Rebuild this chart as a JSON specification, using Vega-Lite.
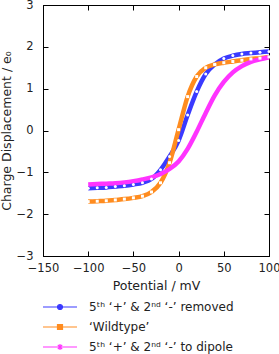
{
  "$schema": "https://vega.github.io/schema/vega-lite/v6.json",
  "autosize": "none",
  "width": 226,
  "height": 251,
  "padding": {"left": 43, "top": 5, "right": 10, "bottom": 98},
  "background": "white",
  "config": {
    "view": {"stroke": "black", "strokeWidth": 1},
    "font": "DejaVu Sans",
    "axis": {"grid": false, "domainColor": "black", "tickColor": "black", "tickSize": -5, "labelFontSize": 11.5, "labelColor": "#222", "titleFontSize": 12.5, "titleFontWeight": "normal", "titleColor": "#222", "labelFont": "DejaVu Sans", "titleFont": "DejaVu Sans", "labelOverlap": false, "labelFlush": false},
    "legend": {"labelFont": "DejaVu Sans", "labelFontSize": 12, "labelColor": "#222"}
  },
  "data": {"values": [
    {"s": "5ᵗʰ ‘+’ & 2ⁿᵈ ‘-’ removed", "v": -100, "q": -1.38},
    {"s": "5ᵗʰ ‘+’ & 2ⁿᵈ ‘-’ removed", "v": -90, "q": -1.37},
    {"s": "5ᵗʰ ‘+’ & 2ⁿᵈ ‘-’ removed", "v": -80, "q": -1.36},
    {"s": "5ᵗʰ ‘+’ & 2ⁿᵈ ‘-’ removed", "v": -70, "q": -1.34},
    {"s": "5ᵗʰ ‘+’ & 2ⁿᵈ ‘-’ removed", "v": -60, "q": -1.32},
    {"s": "5ᵗʰ ‘+’ & 2ⁿᵈ ‘-’ removed", "v": -50, "q": -1.29},
    {"s": "5ᵗʰ ‘+’ & 2ⁿᵈ ‘-’ removed", "v": -40, "q": -1.25},
    {"s": "5ᵗʰ ‘+’ & 2ⁿᵈ ‘-’ removed", "v": -30, "q": -1.16},
    {"s": "5ᵗʰ ‘+’ & 2ⁿᵈ ‘-’ removed", "v": -20, "q": -0.94},
    {"s": "5ᵗʰ ‘+’ & 2ⁿᵈ ‘-’ removed", "v": -10, "q": -0.62},
    {"s": "5ᵗʰ ‘+’ & 2ⁿᵈ ‘-’ removed", "v": 0, "q": -0.24},
    {"s": "5ᵗʰ ‘+’ & 2ⁿᵈ ‘-’ removed", "v": 10, "q": 0.37},
    {"s": "5ᵗʰ ‘+’ & 2ⁿᵈ ‘-’ removed", "v": 20, "q": 0.93},
    {"s": "5ᵗʰ ‘+’ & 2ⁿᵈ ‘-’ removed", "v": 30, "q": 1.35},
    {"s": "5ᵗʰ ‘+’ & 2ⁿᵈ ‘-’ removed", "v": 40, "q": 1.58},
    {"s": "5ᵗʰ ‘+’ & 2ⁿᵈ ‘-’ removed", "v": 50, "q": 1.72},
    {"s": "5ᵗʰ ‘+’ & 2ⁿᵈ ‘-’ removed", "v": 60, "q": 1.79},
    {"s": "5ᵗʰ ‘+’ & 2ⁿᵈ ‘-’ removed", "v": 70, "q": 1.83},
    {"s": "5ᵗʰ ‘+’ & 2ⁿᵈ ‘-’ removed", "v": 80, "q": 1.85},
    {"s": "5ᵗʰ ‘+’ & 2ⁿᵈ ‘-’ removed", "v": 90, "q": 1.87},
    {"s": "5ᵗʰ ‘+’ & 2ⁿᵈ ‘-’ removed", "v": 100, "q": 1.89},
    {"s": "‘Wildtype’", "v": -100, "q": -1.70},
    {"s": "‘Wildtype’", "v": -90, "q": -1.69},
    {"s": "‘Wildtype’", "v": -80, "q": -1.68},
    {"s": "‘Wildtype’", "v": -70, "q": -1.66},
    {"s": "‘Wildtype’", "v": -60, "q": -1.64},
    {"s": "‘Wildtype’", "v": -50, "q": -1.61},
    {"s": "‘Wildtype’", "v": -40, "q": -1.57},
    {"s": "‘Wildtype’", "v": -30, "q": -1.47},
    {"s": "‘Wildtype’", "v": -20, "q": -1.25},
    {"s": "‘Wildtype’", "v": -10, "q": -0.77},
    {"s": "‘Wildtype’", "v": 0, "q": 0.02},
    {"s": "‘Wildtype’", "v": 10, "q": 0.81},
    {"s": "‘Wildtype’", "v": 20, "q": 1.29},
    {"s": "‘Wildtype’", "v": 30, "q": 1.50},
    {"s": "‘Wildtype’", "v": 40, "q": 1.58},
    {"s": "‘Wildtype’", "v": 50, "q": 1.62},
    {"s": "‘Wildtype’", "v": 60, "q": 1.65},
    {"s": "‘Wildtype’", "v": 70, "q": 1.68},
    {"s": "‘Wildtype’", "v": 80, "q": 1.71},
    {"s": "‘Wildtype’", "v": 90, "q": 1.73},
    {"s": "‘Wildtype’", "v": 100, "q": 1.76},
    {"s": "5ᵗʰ ‘+’ & 2ⁿᵈ ‘-’ to dipole", "v": -100, "q": -1.29},
    {"s": "5ᵗʰ ‘+’ & 2ⁿᵈ ‘-’ to dipole", "v": -90, "q": -1.28},
    {"s": "5ᵗʰ ‘+’ & 2ⁿᵈ ‘-’ to dipole", "v": -80, "q": -1.27},
    {"s": "5ᵗʰ ‘+’ & 2ⁿᵈ ‘-’ to dipole", "v": -70, "q": -1.26},
    {"s": "5ᵗʰ ‘+’ & 2ⁿᵈ ‘-’ to dipole", "v": -60, "q": -1.24},
    {"s": "5ᵗʰ ‘+’ & 2ⁿᵈ ‘-’ to dipole", "v": -50, "q": -1.21},
    {"s": "5ᵗʰ ‘+’ & 2ⁿᵈ ‘-’ to dipole", "v": -40, "q": -1.17},
    {"s": "5ᵗʰ ‘+’ & 2ⁿᵈ ‘-’ to dipole", "v": -30, "q": -1.12},
    {"s": "5ᵗʰ ‘+’ & 2ⁿᵈ ‘-’ to dipole", "v": -20, "q": -1.04},
    {"s": "5ᵗʰ ‘+’ & 2ⁿᵈ ‘-’ to dipole", "v": -10, "q": -0.92},
    {"s": "5ᵗʰ ‘+’ & 2ⁿᵈ ‘-’ to dipole", "v": 0, "q": -0.74},
    {"s": "5ᵗʰ ‘+’ & 2ⁿᵈ ‘-’ to dipole", "v": 10, "q": -0.44},
    {"s": "5ᵗʰ ‘+’ & 2ⁿᵈ ‘-’ to dipole", "v": 20, "q": -0.03},
    {"s": "5ᵗʰ ‘+’ & 2ⁿᵈ ‘-’ to dipole", "v": 30, "q": 0.42},
    {"s": "5ᵗʰ ‘+’ & 2ⁿᵈ ‘-’ to dipole", "v": 40, "q": 0.84},
    {"s": "5ᵗʰ ‘+’ & 2ⁿᵈ ‘-’ to dipole", "v": 50, "q": 1.16},
    {"s": "5ᵗʰ ‘+’ & 2ⁿᵈ ‘-’ to dipole", "v": 60, "q": 1.39},
    {"s": "5ᵗʰ ‘+’ & 2ⁿᵈ ‘-’ to dipole", "v": 70, "q": 1.54},
    {"s": "5ᵗʰ ‘+’ & 2ⁿᵈ ‘-’ to dipole", "v": 80, "q": 1.64},
    {"s": "5ᵗʰ ‘+’ & 2ⁿᵈ ‘-’ to dipole", "v": 90, "q": 1.70},
    {"s": "5ᵗʰ ‘+’ & 2ⁿᵈ ‘-’ to dipole", "v": 100, "q": 1.75}
  ]},
  "layer": [
    {
      "mark": {"type": "line", "interpolate": "monotone", "strokeWidth": 4.5, "strokeCap": "butt"},
      "encoding": {
        "x": {"field": "v", "type": "quantitative", "scale": {"domain": [-150, 100], "nice": false},
          "axis": {"orient": "bottom", "values": [-150, -100, -50, 0, 50, 100], "title": "Potential / mV", "labelPadding": 11, "titlePadding": 6}},
        "y": {"field": "q", "type": "quantitative", "scale": {"domain": [-3, 3], "nice": false},
          "axis": {"orient": "left", "values": [-3, -2, -1, 0, 1, 2, 3], "title": "Charge Displacement / e₀", "labelPadding": 15, "titlePadding": 3}},
        "color": {"field": "s", "type": "nominal", "sort": null,
          "scale": {"domain": ["5ᵗʰ ‘+’ & 2ⁿᵈ ‘-’ removed", "‘Wildtype’", "5ᵗʰ ‘+’ & 2ⁿᵈ ‘-’ to dipole"], "range": ["#3a3aff", "#ff8c1f", "#ff33ff"]},
          "legend": {"orient": "none", "legendX": 0, "legendY": 291, "title": null, "padding": 0, "rowPadding": 3,
            "symbolSize": 400, "symbolStrokeWidth": 1.2, "symbolOffset": 6, "labelOffset": 18, "symbolType": "M-1.7,0H1.7",
            "encode": {"symbols": {"update": {
              "shape": {"signal": "datum.index == 0 ? 'M-1.7,0H1.7M-0.25,0A0.25,0.25 0 1,0 0.25,0A0.25,0.25 0 1,0 -0.25,0Z' : datum.index == 1 ? 'M-1.7,0H1.7M-0.25,-0.25H0.25V0.25H-0.25Z' : 'M-1.7,0H1.7M-0.3,0H0.3M0,-0.3V0.3M-0.22,-0.22L0.22,0.22M-0.22,0.22L0.22,-0.22'"},
              "fill": {"signal": "scale('color', datum.value)"},
              "stroke": {"signal": "scale('color', datum.value)"}
            }}}}}
      }
    },
    {
      "transform": [{"filter": "datum.s != '5ᵗʰ ‘+’ & 2ⁿᵈ ‘-’ to dipole'"}],
      "mark": {"type": "point", "filled": true, "fill": "white", "stroke": null, "opacity": 1, "size": 9},
      "encoding": {
        "x": {"field": "v", "type": "quantitative", "axis": {"orient": "top", "values": [-150, -100, -50, 0, 50, 100], "labels": false, "title": null}},
        "y": {"field": "q", "type": "quantitative", "axis": {"orient": "right", "values": [-3, -2, -1, 0, 1, 2, 3], "labels": false, "title": null}},
        "shape": {"field": "s", "type": "nominal", "scale": {"domain": ["5ᵗʰ ‘+’ & 2ⁿᵈ ‘-’ removed", "‘Wildtype’"], "range": ["circle", "square"]}, "legend": null}
      }
    }
  ],
  "resolve": {"axis": {"x": "independent", "y": "independent"}}
}
